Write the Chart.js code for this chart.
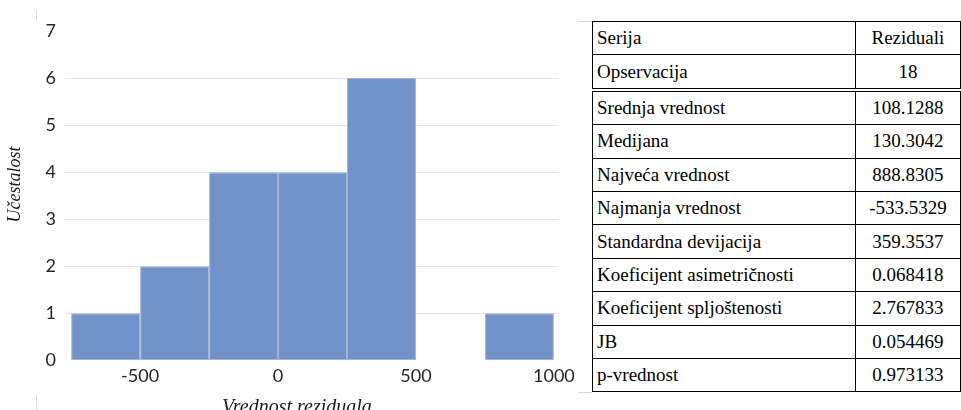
<!DOCTYPE html>
<html>
<head>
<meta charset="utf-8">
<script src="https://cdn.jsdelivr.net/npm/chart.js@4"></script>
<style>
  html, body { margin: 0; padding: 0; background: #fff; width: 961px; height: 410px; overflow: hidden; position: relative; }
  #wrap { position: absolute; left: 0; top: 0; width: 580px; height: 420px; }
  table { position: absolute; left: 592px; top: 21px; border-collapse: collapse; }
  td { font-family: "Liberation Serif", "Times New Roman", serif; font-size: 19px; color: #000; border: 1px solid #000; height: 32.4px; padding: 0 4px; white-space: nowrap; }
  td.l { width: 259px; text-align: left; }
  td.v { width: 100px; text-align: center; padding: 0 3px; }
  tr.sep td { border-bottom: 4px double #000; }
  .frame { position: absolute; background: #d9d9d9; }
</style>
</head>
<body>
<div class="frame" style="left:36px;top:10px;width:1px;height:10px"></div>
<div class="frame" style="left:36px;top:395px;width:1px;height:15px"></div>
<div class="frame" style="left:578px;top:21px;width:14px;height:1px"></div>
<div class="frame" style="left:578px;top:392px;width:14px;height:1px"></div>
<div id="wrap"><canvas id="c" width="580" height="420"></canvas></div>
<table id="tbl"></table>
<script>
// Histogram bins (centers of 250-wide bins) and frequencies
const binCenters = [-625, -375, -125, 125, 375, 625, 875];
const frequencies = [1, 2, 4, 4, 6, 0, 1];
const xTickValues = [-500, 0, 500, 1000];
const yTickValues = [0, 1, 2, 3, 4, 5, 6, 7];

// Statistics table
const statLabels = ["Serija", "Opservacija", "Srednja vrednost", "Medijana", "Najveća vrednost", "Najmanja vrednost", "Standardna devijacija", "Koeficijent asimetričnosti", "Koeficijent spljoštenosti", "JB", "p-vrednost"];
const statValues = ["Reziduali", "18", "108.1288", "130.3042", "888.8305", "-533.5329", "359.3537", "0.068418", "2.767833", "0.054469", "0.973133"];

const tbl = document.getElementById('tbl');
statLabels.forEach((lab, i) => {
  const tr = document.createElement('tr');
  if (i === 1) tr.className = 'sep';
  const a = document.createElement('td'); a.className = 'l'; a.textContent = lab;
  const b = document.createElement('td'); b.className = 'v'; b.textContent = statValues[i];
  tr.appendChild(a); tr.appendChild(b); tbl.appendChild(tr);
});

const nb = '\u00a0';
new Chart(document.getElementById('c'), {
  type: 'bar',
  data: {
    datasets: [{
      data: binCenters.map((x, i) => ({ x: x, y: frequencies[i] })),
      backgroundColor: '#7193ca',
      borderColor: '#a6b4d2',
      borderWidth: (ctx) => (ctx.raw && ctx.raw.y === 0 ? 0 : 1),
      inflateAmount: 0,
      borderSkipped: false,
      barPercentage: 1,
      categoryPercentage: 1
    }]
  },
  options: {
    responsive: false,
    animation: false,
    layout: { padding: { left: 0, right: 20, top: 31, bottom: 0 } },
    plugins: { legend: { display: false }, tooltip: { enabled: false } },
    scales: {
      x: {
        type: 'linear',
        offset: false,
        min: -772,
        max: 1018,
        afterBuildTicks: (s) => { s.ticks = xTickValues.map(v => ({ value: v })); },
        grid: { display: false, drawTicks: false, offset: false },
        border: { display: false },
        ticks: { color: '#262626', font: { family: 'Lato', size: 18 }, padding: 5, maxRotation: 0, callback: (v) => String(v) },
        title: { display: true, text: 'Vrednost reziduala' + nb.repeat(6), color: '#1a1a1a', font: { family: 'Liberation Serif', size: 20, style: 'italic' }, padding: { top: 4, bottom: 0 } }
      },
      y: {
        min: 0,
        max: 7,
        afterBuildTicks: (s) => { s.ticks = yTickValues.map(v => ({ value: v })); },
        grid: { drawTicks: false, color: (ctx) => (ctx.tick && ctx.tick.value > 0 && ctx.tick.value < 7 ? '#e4e4e4' : 'rgba(0,0,0,0)') },
        border: { display: false },
        ticks: { color: '#262626', font: { family: 'Lato', size: 18 }, padding: 9 },
        title: { display: true, text: nb.repeat(5) + 'Učestalost', color: '#1a1a1a', font: { family: 'Liberation Serif', size: 18, style: 'italic' }, padding: { top: 4, bottom: 11 } }
      }
    }
  }
});
</script>
</body>
</html>
